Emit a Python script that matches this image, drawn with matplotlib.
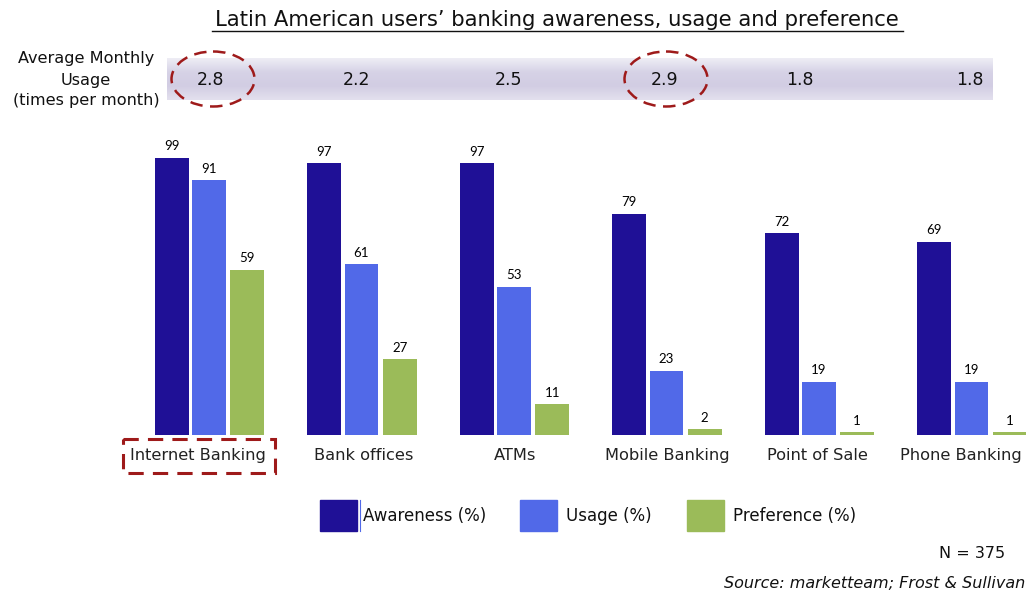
import matplotlib.pyplot as plt
import numpy as np
from matplotlib.patches import Ellipse, Rectangle
from matplotlib.colors import LinearSegmentedColormap

# data
channels = ["Internet Banking", "Bank offices", "ATMs", "Mobile Banking", "Point of Sale", "Phone Banking"]
awareness = [99, 97, 97, 79, 72, 69]
usage = [91, 61, 53, 23, 19, 19]
preference = [59, 27, 11, 2, 1, 1]
monthly_usage = [2.8, 2.2, 2.5, 2.9, 1.8, 1.8]
series_names = ["Awareness (%)", "Usage (%)", "Preference (%)"]

colors = ["#1F1096", "#5169E8", "#9BBB59"]
dark_red = "#9E1A1A"
num_font = "Lato"

fig = plt.figure(figsize=(10.26, 5.92), dpi=100)

# overlay in pixel units for title, band, notes
ov = fig.add_axes([0, 0, 1, 1])
ov.set_xlim(0, 1026)
ov.set_ylim(592, 0)
ov.axis("off")

# bar axes: baseline at y=435px, 100% at y=155px
ax = fig.add_axes([0, 157 / 592, 1, 280 / 592])
x = np.arange(len(channels))
width = 0.222
offsets = [-0.245, 0, 0.25]
for vals, off, c in zip([awareness, usage, preference], offsets, colors):
    bars = ax.bar(x + off, vals, width, color=c)
    for b, v in zip(bars, vals):
        ax.annotate(str(v), (b.get_x() + b.get_width() / 2, v), xytext=(0, 4),
                    textcoords="offset points", ha="center", va="bottom",
                    fontsize=9.5, family=num_font)
ax.set_xlim(-209 / 152.5, (1026 - 209) / 152.5)
ax.set_ylim(0, 100)
ax.set_xticks([])
ax.set_yticks([])
for s in ax.spines.values():
    s.set_visible(False)
ax.patch.set_alpha(0)

# category names under the groups
label_x = [198, 364, 515, 667, 817, 961]
for lx, name in zip(label_x, channels):
    ov.text(lx, 460, name, ha="center", va="baseline", fontsize=11.7, color="#222222")

# title
ov.text(557, 20, "Latin American users\u2019 banking awareness, usage and preference",
        ha="center", va="center", fontsize=15.2, color="#111111")
ov.plot([212, 903], [31, 31], color="#111111", lw=1)

# lavender band with monthly usage values
band = LinearSegmentedColormap.from_list("band", ["#EEEDF5", "#D6D2E6", "#D2CDE3", "#E3E0EE"])
grad = np.linspace(0, 1, 50).reshape(-1, 1)
ov.imshow(grad, cmap=band, extent=[167, 993, 100, 58], aspect="auto", zorder=1)
ov.set_xlim(0, 1026)
ov.set_ylim(592, 0)
ov.text(86, 80, "Average Monthly\nUsage\n(times per month)", ha="center", va="center",
        fontsize=11.6, linespacing=1.5, color="#111111")
usage_x = [211, 357, 508, 665, 800, 970]
for ux, mv in zip(usage_x, monthly_usage):
    ov.text(ux, 80, f"{mv:.1f}", ha="center", va="center", fontsize=12.5, color="#111111", zorder=3)

for cx in [213, 666]:
    ov.add_patch(Ellipse((cx, 79), 83, 55, fill=False, ec=dark_red, lw=1.8,
                         ls=(0, (5, 3)), zorder=4))
ov.add_patch(Rectangle((123, 439), 152, 34, fill=False, ec=dark_red, lw=2.2,
                       ls=(0, (5, 3)), zorder=4))

# legend
legend_x = [320, 520, 687]
for lx, name, c in zip(legend_x, series_names, colors):
    ov.add_patch(Rectangle((lx, 500), 37, 31, color=c, zorder=3))
    ov.text(lx + (43 if lx == 320 else 46), 516, name, ha="left", va="center",
            fontsize=12, color="#111111")
ov.plot([360, 360], [500, 531], color=colors[1], lw=0.8)

ov.text(1005, 553, "N = 375", ha="right", va="center", fontsize=11.5, color="#111111")
ov.text(1025, 583, "Source: marketteam; Frost & Sullivan", ha="right", va="center",
        fontsize=11.5, style="italic", color="#111111")

fig.savefig("out.png", dpi=100)
